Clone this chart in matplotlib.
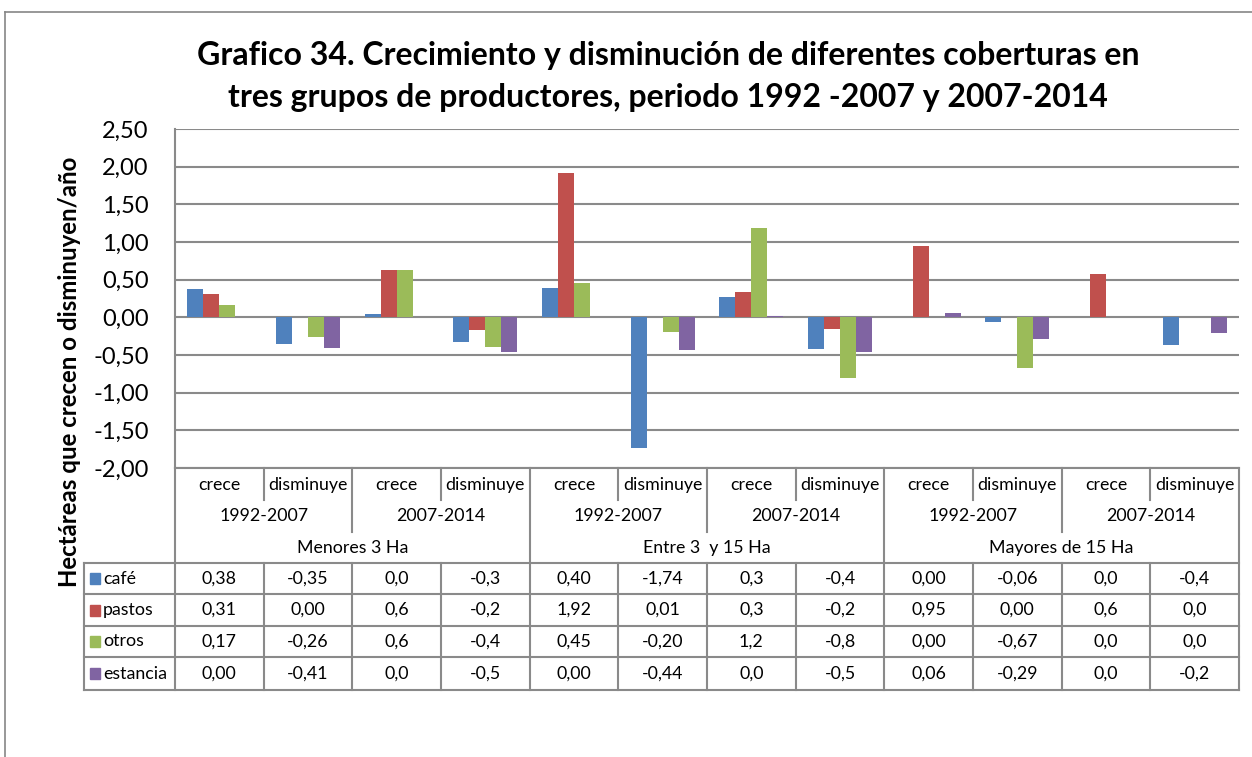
import matplotlib
matplotlib.use("Agg")
import matplotlib.pyplot as plt
from matplotlib.ticker import FuncFormatter
import numpy as np

W, H = 1252, 757
plt.rcParams['font.family'] = ['Lato', 'DejaVu Sans']

# ---------------- data ----------------
groups = ["Menores 3 Ha", "Entre 3  y 15 Ha", "Mayores de 15 Ha"]
periods = ["1992-2007", "2007-2014"]
kinds = ["crece", "disminuye"]
series = ["café", "pastos", "otros", "estancia"]
colors = ["#4F81BD", "#C0504D", "#9BBB59", "#8064A2"]

cafe = [0.38, -0.36, 0.04, -0.33, 0.39, -1.74, 0.27, -0.42, 0.00, -0.06, 0.00, -0.37]
pastos = [0.31, 0.00, 0.63, -0.17, 1.92, 0.01, 0.34, -0.15, 0.95, 0.00, 0.57, 0.00]
otros = [0.17, -0.26, 0.63, -0.39, 0.45, -0.20, 1.19, -0.81, 0.00, -0.67, 0.00, 0.00]
estancia = [0.00, -0.41, 0.00, -0.46, 0.00, -0.44, 0.02, -0.46, 0.06, -0.29, 0.00, -0.21]

cafe_lbl = ["0,38", "-0,35", "0,0", "-0,3", "0,40", "-1,74", "0,3", "-0,4", "0,00", "-0,06", "0,0", "-0,4"]
pastos_lbl = ["0,31", "0,00", "0,6", "-0,2", "1,92", "0,01", "0,3", "-0,2", "0,95", "0,00", "0,6", "0,0"]
otros_lbl = ["0,17", "-0,26", "0,6", "-0,4", "0,45", "-0,20", "1,2", "-0,8", "0,00", "-0,67", "0,0", "0,0"]
estancia_lbl = ["0,00", "-0,41", "0,0", "-0,5", "0,00", "-0,44", "0,0", "-0,5", "0,06", "-0,29", "0,0", "-0,2"]

yticks = [-2.0, -1.5, -1.0, -0.5, 0.0, 0.5, 1.0, 1.5, 2.0, 2.5]

title1 = "Grafico 34. Crecimiento y disminución de diferentes coberturas en"
title2 = "tres grupos de productores, periodo 1992 -2007 y 2007-2014"
ylabel = "Hectáreas que crecen o disminuyen/año"

values = [cafe, pastos, otros, estancia]
labels = [cafe_lbl, pastos_lbl, otros_lbl, estancia_lbl]

# ---------------- layout helpers ----------------
fig = plt.figure(figsize=(W / 100, H / 100), dpi=100)
fig.patch.set_facecolor("white")

L, R, T, B = 175, 1239, 129, 468


def fx(px):
    return px / W


def fy(py):
    return 1 - py / H


ax = fig.add_axes([fx(L), fy(B), fx(R) - fx(L), fy(T) - fy(B)])

GRID = "#8a8a8a"
n = len(cafe)
x = np.arange(n)
bw = 0.18
for i, (vals, c) in enumerate(zip(values, colors)):
    ax.bar(x + (i - 1.5) * bw, vals, width=bw, color=c, linewidth=0, zorder=3)

ax.set_xlim(-0.5, n - 0.5)
ax.set_ylim(min(yticks), max(yticks))
ax.set_yticks(yticks)
ax.yaxis.set_major_formatter(FuncFormatter(lambda v, p: f"{v:.2f}".replace(".", ",")))
ax.set_xticks([])
ax.tick_params(axis="y", length=0, labelsize=17, pad=19)
ax.yaxis.grid(True, color=GRID, linewidth=1.5, zorder=0)
for s in ["top", "right"]:
    ax.spines[s].set_visible(False)
for s in ["left", "bottom"]:
    ax.spines[s].set_color(GRID)
    ax.spines[s].set_linewidth(1.5)

# ---------------- titles ----------------
fig.text(fx(668), fy(55), title1, ha="center", va="center", fontsize=23, fontweight="bold")
fig.text(fx(668), fy(97), title2, ha="center", va="center", fontsize=23, fontweight="bold")
fig.text(fx(70), fy(372), ylabel, ha="center", va="center", rotation=90,
         fontsize=17.3, fontweight="bold")

# ---------------- data table ----------------
colw = (R - L) / n
cb = [L + k * colw for k in range(n + 1)]   # column boundaries (px)
cc = [L + (k + 0.5) * colw for k in range(n)]  # column centres (px)

LEG = 84
r1, r2, r3 = 468, 500, 532
rows = [562.7, 594.3, 625.7, 657.3, 690]


def hline(py, x0, x1):
    fig.add_artist(plt.Line2D([fx(x0), fx(x1)], [fy(py), fy(py)], color=GRID, lw=1.5))


def vline(px, y0, y1):
    fig.add_artist(plt.Line2D([fx(px), fx(px)], [fy(y0), fy(y1)], color=GRID, lw=1.5))


for py in rows:
    hline(py, LEG, R)
vline(LEG, rows[0], rows[-1])
vline(L, B, rows[-1])
vline(R, B, rows[-1])
for k in range(1, n):
    if k % 4 == 0:
        vline(cb[k], B, rows[-1])
    elif k % 2 == 0:
        vline(cb[k], B, r3)
        vline(cb[k], rows[0], rows[-1])
    else:
        vline(cb[k], B, r2)
        vline(cb[k], rows[0], rows[-1])

TF = 12.8
for k in range(n):
    fig.text(fx(cc[k]), fy(485), kinds[k % 2], ha="center", va="center", fontsize=TF)
for k in range(n // 2):
    xc = (cb[2 * k] + cb[2 * k + 2]) / 2
    fig.text(fx(xc), fy(516), periods[k % 2], ha="center", va="center", fontsize=TF)
for k in range(n // 4):
    xc = (cb[4 * k] + cb[4 * k + 4]) / 2
    fig.text(fx(xc), fy(548), groups[k], ha="center", va="center", fontsize=TF)

for j, (name, c, lbls) in enumerate(zip(series, colors, labels)):
    yc = (rows[j] + rows[j + 1]) / 2
    fig.patches.append(plt.Rectangle((fx(90), fy(yc + 5.5)), fx(10), 11 / H,
                                     transform=fig.transFigure, color=c, figure=fig))
    fig.text(fx(103), fy(yc), name, ha="left", va="center", fontsize=TF)
    for k in range(n):
        fig.text(fx(cc[k]), fy(yc), lbls[k], ha="center", va="center", fontsize=TF)

# chart-area border
BORDER = "#868686"
fig.add_artist(plt.Line2D([fx(5), fx(5)], [fy(12), fy(H + 5)], color=BORDER, lw=1.2))
fig.add_artist(plt.Line2D([fx(5), fx(W + 5)], [fy(12), fy(12)], color=BORDER, lw=1.2))

fig.savefig("out.png", dpi=100)
